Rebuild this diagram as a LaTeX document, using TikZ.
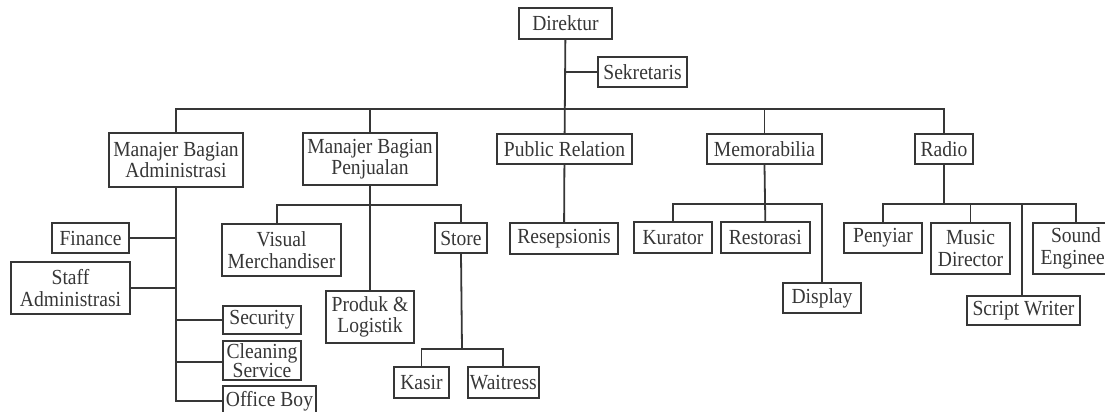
\documentclass[tikz,border=0pt]{standalone}
\usepackage{fontspec}
\setmainfont{Liberation Serif}[FakeStretch=0.91]
\usetikzlibrary{positioning}
\definecolor{ink}{HTML}{363636}

\begin{document}
\begin{tikzpicture}[
        x=1pt, y=-1pt,
        unit/.style={draw=ink, line width=1.8pt, text=ink, align=center, inner xsep=2pt, inner ysep=1pt, font=\fontsize{21.5}{21.5}\selectfont, minimum height=31pt},
        tall/.style={unit, minimum height=52pt},
        link/.style={draw=ink, line width=1.8pt}
    ]
        \useasboundingbox (0,0) rectangle (1105,412);

        % top level
        \node[unit, minimum width=93pt] (direktur) at (565.5,23.5) {Direktur};
        \node[unit, minimum width=89pt, minimum height=30pt] (sekretaris) at (642.5,72) {Sekretaris};

        \node[tall, minimum width=134pt, minimum height=54pt] (adm) at (176,160) {Manajer Bagian\\Administrasi};
        \node[tall, minimum width=134pt] (penj) at (370,159) {Manajer Bagian\\Penjualan};
        \node[unit, minimum width=135pt, minimum height=30pt] (pr) at (564.5,149) {Public Relation};
        \node[unit, minimum width=115pt, minimum height=30pt] (memo) at (764.5,149) {Memorabilia};
        \node[unit, minimum width=58pt, minimum height=30pt] (radio) at (944,149) {Radio};

        % administrasi
        \node[unit, minimum width=77pt, minimum height=30pt] (finance) at (90.5,238) {Finance};
        \node[tall, minimum width=119pt] (staff) at (70.5,288) {Staff\\Administrasi};
        \node[unit, minimum width=78pt, minimum height=28pt] (security) at (262,320) {Security};
        \node[unit, minimum width=78pt, minimum height=39pt, inner ysep=0pt] (cleaning) at (262,360.5) {Cleaning\\[-2pt]Service};
        \node[unit, minimum width=93pt, minimum height=30pt] (officeboy) at (269.5,401) {Office Boy};

        % penjualan
        \node[tall, minimum width=119pt] (visual) at (281.5,250) {Visual\\Merchandiser};
        \node[tall, minimum width=88pt] (produk) at (370,317) {Produk \&\\Logistik};
        \node[unit, minimum width=52pt, minimum height=30pt] (store) at (461,238) {Store};
        \node[unit, minimum width=55pt] (kasir) at (421.5,382.5) {Kasir};
        \node[unit, minimum width=71pt, right=17pt of kasir] (waitress) {Waitress};

        % public relation
        \node[unit, minimum width=108pt] (resepsionis) at (564,238.5) {Resepsionis};

        % memorabilia
        \node[unit, minimum width=78pt] (kurator) at (673,237.5) {Kurator};
        \node[unit, minimum width=89pt, right=7pt of kurator] (restorasi) {Restorasi};
        \node[unit, minimum width=78pt, minimum height=30pt] (display) at (822,298) {Display};

        % radio
        \node[unit, minimum width=78pt, minimum height=30pt] (penyiar) at (883,238) {Penyiar};
        \node[tall, minimum width=79pt, minimum height=51pt] (music) at (970.5,248.5) {Music\\Director};
        \node[unit, minimum width=113pt, minimum height=29pt] (script) at (1023.5,310.5) {Script Writer};
        \node[tall, minimum width=86pt, minimum height=51pt] (sound) at (1076,248.5) {Sound\\Engineer};

        % bus points
        \coordinate (topbus) at (565,109);
        \coordinate (pbus) at (370,205);
        \coordinate (sbus) at (462,349);
        \coordinate (mbus) at (764,204);
        \coordinate (rbus) at (944,204);

        % connectors
        \draw[link] (direktur) -- (pr);
        \draw[link] (sekretaris.west) -- (sekretaris.west -| direktur.south);
        \draw[link] (adm.north) |- (topbus) -| (radio.north);
        \draw[link] (penj.north) -- (penj.north |- topbus);
        \draw[link] (memo.north) -- (memo.north |- topbus);

        \draw[link] (adm.south) |- (officeboy.west);
        \draw[link] (finance.east) -- (finance.east -| adm.south);
        \draw[link] (staff.east) -- (staff.east -| adm.south);
        \draw[link] (security.west) -- (security.west -| adm.south);
        \draw[link] ([yshift=-1.5pt]cleaning.west) -- ([yshift=-1.5pt]cleaning.west -| adm.south);

        \draw[link] (penj.south) -- (produk.north);
        \draw[link] ([xshift=-4.5pt]visual.north) |- (pbus) -| (store.north);
        \draw[link] (store.south) -- (sbus);
        \draw[link] (kasir.north) |- (sbus) -| (waitress.north);

        \draw[link] (pr) -- (resepsionis);

        \draw[link] (memo.south) -- (restorasi.north);
        \draw[link] (kurator.north) |- (mbus) -| (display.north);

        \draw[link] (radio.south) -- (rbus);
        \draw[link] (penyiar.north) |- (rbus) -| (sound.north);
        \draw[link] (music.north) -- (music.north |- rbus);
        \draw[link] ([xshift=-1.5pt]script.north) -- ([xshift=-1.5pt]script.north |- rbus);
\end{tikzpicture}
\end{document}
